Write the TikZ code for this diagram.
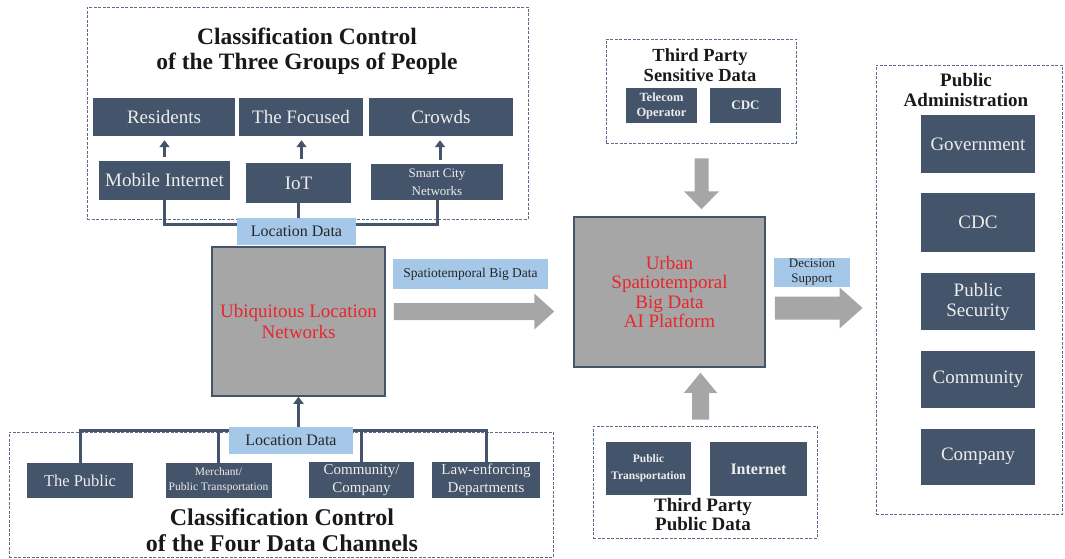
\documentclass[tikz,border=0pt]{standalone}
\usepackage{fontspec}
\setmainfont{Liberation Serif}
\usetikzlibrary{arrows.meta,calc}
\definecolor{dk}{HTML}{44546A}
\definecolor{lb}{HTML}{A5C8E8}
\definecolor{gr}{HTML}{A6A6A6}
\definecolor{rd}{HTML}{E8262C}
\definecolor{dsh}{HTML}{5A6B8C}
\newcommand{\fsz}[2]{\fontsize{#1}{#2}\selectfont}
% horizontal block arrow: start, tip, half shaft, half head, head length
\newcommand{\hblock}[5]{\fill[gr] ($(#1)+(0,-#3)$) -- ($(#2)+(-#5,-#3)$) -- ($(#2)+(-#5,-#4)$) -- (#2) -- ($(#2)+(-#5,#4)$) -- ($(#2)+(-#5,#3)$) -- ($(#1)+(0,#3)$) -- cycle;}
% downward block arrow
\newcommand{\dblock}[5]{\fill[gr] ($(#1)+(-#3,0)$) -- ($(#2)+(-#3,-#5)$) -- ($(#2)+(-#4,-#5)$) -- (#2) -- ($(#2)+(#4,-#5)$) -- ($(#2)+(#3,-#5)$) -- ($(#1)+(#3,0)$) -- cycle;}
% upward block arrow
\newcommand{\ublock}[5]{\fill[gr] ($(#1)+(-#3,0)$) -- ($(#2)+(-#3,#5)$) -- ($(#2)+(-#4,#5)$) -- (#2) -- ($(#2)+(#4,#5)$) -- ($(#2)+(#3,#5)$) -- ($(#1)+(#3,0)$) -- cycle;}
\begin{document}
\begin{tikzpicture}[x=1pt,y=-1pt,
  darkbox/.style={fill=dk, text=white!93!black, inner sep=0pt, align=center},
  lblbox/.style={fill=lb, text=black!85, inner sep=0pt, align=center},
  graybox/.style={fill=gr, draw=dk, line width=1.5pt, inner sep=0pt, align=center, text=rd},
  dashbox/.style={draw=dsh, dash pattern=on 3pt off 1.5pt, line width=0.9pt, inner sep=0pt},
  ttl/.style={align=center, inner sep=0pt, text=black!90},
  conn/.style={draw=dk, line width=3pt},
  darrow/.style={draw=dk, line width=3pt, -{Triangle[length=7pt,width=10pt]}}]
\useasboundingbox (0,0) rectangle (1065,559);

% ---------- top group ----------
\node[dashbox, minimum width=441pt, minimum height=212pt] (grpA) at (307.5,113) {};
\node[ttl, font=\bfseries\fsz{23.5}{24.5}] (ttlA) at (307,51) {Classification Control\\of the Three Groups of People};
\node[darkbox, minimum width=142pt, minimum height=38pt, font=\fsz{19}{21}] (res) at (164,117) {Residents};
\node[darkbox, minimum width=124pt, minimum height=38pt, font=\fsz{19}{21}] (foc) at (301,117) {The Focused};
\node[darkbox, minimum width=144pt, minimum height=38pt, font=\fsz{19}{21}] (crw) at (441,117) {Crowds};
\node[darkbox, minimum width=131pt, minimum height=39pt, font=\fsz{19}{21}] (mob) at (164.5,180.5) {Mobile Internet};
\node[darkbox, minimum width=105pt, minimum height=40pt, font=\fsz{19}{21}] (iot) at (298.5,183) {IoT};
\node[darkbox, minimum width=132pt, minimum height=36pt, font=\fsz{13}{18}] (smc) at (437,182) {Smart City\\Networks};

\draw[darrow, shorten <=4pt, shorten >=4pt] (mob.north) -- (mob.north |- res.south);
\draw[darrow, shorten <=4pt, shorten >=4pt] ([xshift=3pt]iot.north) -- ([xshift=3pt]iot.north |- foc.south);
\draw[darrow, shorten <=4pt, shorten >=4pt] ([xshift=3pt]smc.north) -- ([xshift=3pt]smc.north |- crw.south);

\coordinate (topbus) at (298.5,224);
\draw[conn] (mob.south) |- (topbus) -| (smc.south);
\draw[conn] (iot.south) -- (topbus);

% ---------- centre ----------
\node[graybox, minimum width=173pt, minimum height=149pt, font=\fsz{19}{21}] (ubi) at (298.5,321.5) {Ubiquitous Location\\Networks};
\node[lblbox, minimum width=119pt, minimum height=27pt, font=\fsz{16}{18}] (locT) at (296.5,231.5) {Location Data};
\node[lblbox, minimum width=155pt, minimum height=30pt, font=\fsz{13.5}{15}] (stbd) at (470.5,274) {Spatiotemporal Big Data};

% ---------- bottom group ----------
\node[dashbox, minimum width=544pt, minimum height=125pt] (grpB) at (281,494.5) {};
\node[ttl, font=\bfseries\fsz{24}{26}] (ttlB) at (282,530) {Classification Control\\of the Four Data Channels};
\node[darkbox, minimum width=106pt, minimum height=35pt, font=\fsz{16.5}{18}] (pub) at (80,480.5) {The Public};
\node[darkbox, minimum width=106pt, minimum height=35pt, font=\fsz{11.5}{15}] (mer) at (218.5,480.5) {Merchant/\\Public Transportation};
\node[darkbox, minimum width=105pt, minimum height=36pt, font=\fsz{15}{17.5}] (com) at (361.5,480) {Community/\\Company};
\node[darkbox, minimum width=108pt, minimum height=36pt, font=\fsz{15}{17.5}] (law) at (486,480) {Law-enforcing\\Departments};

\coordinate (botbus) at (298.5,430);
\draw[conn] (pub.north) |- (botbus) -| (law.north);
\draw[conn] (mer.north) -- (mer.north |- botbus);
\draw[conn] (com.north) -- (com.north |- botbus);
\draw[darrow] (botbus) -- (ubi.south);
\node[lblbox, minimum width=124pt, minimum height=27pt, font=\fsz{16}{18}] (locB) at (291,440.5) {Location Data};

% ---------- third party sensitive ----------
\node[dashbox, minimum width=190pt, minimum height=104pt] (sens) at (701,91) {};
\node[ttl, font=\bfseries\fsz{18.5}{20}] (ttlS) at (700,65) {Third Party\\Sensitive Data};
\node[darkbox, minimum width=71pt, minimum height=35pt, font=\bfseries\fsz{12.5}{15}] (tel) at (661.5,105.5) {Telecom\\Operator};
\node[darkbox, minimum width=71pt, minimum height=35pt, font=\bfseries\fsz{13}{15}] (cdcS) at (745.5,105.5) {CDC};

% ---------- platform ----------
\node[graybox, minimum width=191pt, minimum height=150pt, font=\fsz{19}{19.5}] (urb) at (669.5,292) {Urban\\Spatiotemporal\\Big Data\\AI Platform};

% ---------- third party public ----------
\node[dashbox, minimum width=224pt, minimum height=112pt] (pubd) at (705,482) {};
\node[darkbox, minimum width=85pt, minimum height=53pt, font=\bfseries\fsz{11.5}{17}] (ptr) at (648.5,468.5) {Public\\Transportation};
\node[darkbox, minimum width=97pt, minimum height=54pt, font=\bfseries\fsz{16}{18}] (inet) at (758.5,469) {Internet};
\node[ttl, font=\bfseries\fsz{19}{19}] (ttlP) at (703,515) {Third Party\\Public Data};

% ---------- public administration ----------
\node[dashbox, minimum width=186pt, minimum height=449pt] (pa) at (969,289.5) {};
\node[ttl, font=\bfseries\fsz{19}{20}] (ttlPA) at (966,90) {Public\\Administration};
\node[darkbox, minimum width=114pt, minimum height=58pt, font=\fsz{19}{20}] (gov) at (978,144) {Government};
\node[darkbox, minimum width=114pt, minimum height=59pt, font=\fsz{19}{20}] (cdcR) at (978,222.5) {CDC};
\node[darkbox, minimum width=114pt, minimum height=57pt, font=\fsz{19}{20}] (sec) at (978,301.5) {Public\\Security};
\node[darkbox, minimum width=114pt, minimum height=57pt, font=\fsz{19}{20}] (cmy) at (978,379.5) {Community};
\node[darkbox, minimum width=114pt, minimum height=56pt, font=\fsz{19}{20}] (cpy) at (978,456.5) {Company};

% ---------- block arrows ----------
\coordinate (a1s) at ($(ubi.east)+(8,-10)$);
\coordinate (a1x) at ($(urb.west)+(-19,0)$);
\coordinate (a1t) at (a1x |- a1s);
\hblock{a1s}{a1t}{8.5}{18}{20}

\node[lblbox, minimum width=76pt, minimum height=29pt, font=\fsz{13}{15}] (dec) at (812,272.5) {Decision\\Support};
\coordinate (a2s) at ($(urb.east)+(9,16)$);
\coordinate (a2x) at ($(pa.west)+(-13,0)$);
\coordinate (a2t) at (a2x |- a2s);
\hblock{a2s}{a2t}{11.5}{20.5}{23}

\coordinate (a3s) at ($(sens.south)+(0.5,15)$);
\coordinate (a3y) at ($(urb.north)+(0,-7)$);
\coordinate (a3t) at (a3s |- a3y);
\dblock{a3s}{a3t}{7}{17.5}{18}

\coordinate (a4s) at ($(pubd.north)+(-4.5,-6)$);
\coordinate (a4y) at ($(urb.south)+(0,5)$);
\coordinate (a4t) at (a4s |- a4y);
\ublock{a4s}{a4t}{8.5}{16.5}{20}
\end{tikzpicture}
\end{document}
